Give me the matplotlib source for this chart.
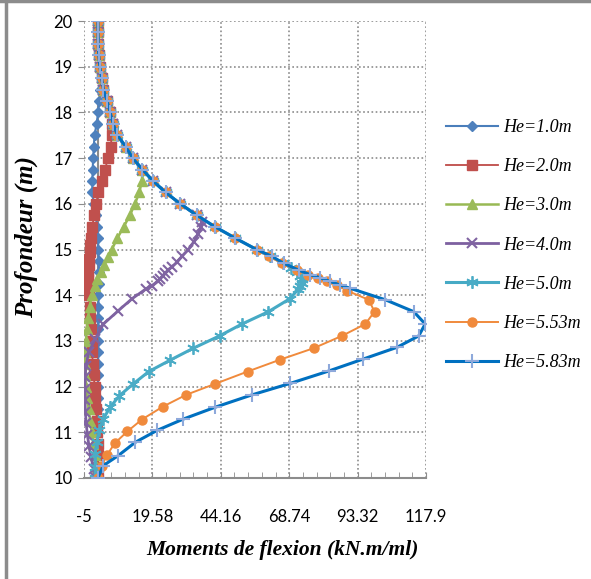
import matplotlib
matplotlib.use("Agg")
import matplotlib.pyplot as plt
from matplotlib.lines import Line2D

# ------------------------------
# DATA
# ------------------------------

# common upper part shared by most curves (depth in m, moment in kN.m/ml)
upper_depth = [20, 19.75, 19.5, 19.25, 19.0, 18.75, 18.5, 18.25, 18.0, 17.75, 17.5,
               17.25, 17.0, 16.75, 16.5, 16.25, 16.0, 15.75, 15.5, 15.25, 15.0]
upper_moment = [0, 0.05, 0.1, 0.3, 0.7, 1.3, 2.0, 3.3, 4.4, 5.5, 7.0,
                10.0, 12.5, 16.0, 19.8, 24.3, 29.6, 35.5, 42.0, 49.3, 57.0]

depth_10 = [20, 19.75, 19.5, 19.25, 19.0, 18.75, 18.5, 18.25, 18.0, 17.75, 17.5, 17.25,
            17.0, 16.75, 16.5, 16.25, 16.0, 15.75, 15.5, 15.25, 15.0, 14.75, 14.5, 14.25,
            14.0, 13.75, 13.5, 13.25, 13.0, 12.75, 12.5, 12.25, 12.0, 11.75, 11.5, 11.25,
            11.0, 10.75, 10.5, 10.25, 10.0]
moment_10 = [0, 0.05, 0.1, 0.3, 0.7, 1.0, 0.9, 0.5, 0.1, -0.5, -1.2, -1.5,
             -1.7, -1.9, -2.0, -2.0, -1.5, -0.8, -0.3, 0.0, 0.2, 0.3, 0.3, 0.3,
             0.2, 0.2, 0.2, 0.1, 0.1, 0.1, 0.1, 0.1, 0.0, 0.0, 0.0, 0.0,
             0.0, 0.0, 0.0, 0.0, 0.0]

depth_20 = upper_depth[:10] + [17.5, 17.25, 17.0, 16.75, 16.5, 16.25, 16.0, 15.75, 15.5,
                               15.25, 15.1, 14.95, 14.8, 14.65, 14.5, 14.35, 14.2, 14.0,
                               13.75, 13.5, 13.25, 13.0, 12.75, 12.5, 12.25, 12.0, 11.75,
                               11.5, 11.25, 11.0, 10.75, 10.5, 10.25, 10.0]
moment_20 = upper_moment[:9] + [5.2, 5.0, 4.6, 3.7, 2.5, 1.3, 0.2, -0.7, -1.4, -2.0,
                                -2.5, -2.8, -3.0, -3.2, -3.3, -3.4, -3.4, -3.3, -3.2,
                                -3.0, -2.8, -2.6, -2.3, -2.1, -1.8, -1.5, -1.2, -0.9,
                                -0.6, -0.4, -0.2, -0.1, 0.0, 0.0, 0.0]

depth_30 = upper_depth[:13] + [16.75, 16.5, 16.25, 16.0, 15.75, 15.5, 15.25, 15.0, 14.83,
                               14.65, 14.5, 14.35, 14.2, 14.0, 13.75, 13.5, 13.25, 13.0,
                               12.75, 12.5, 12.25, 12.0, 11.75, 11.5, 11.25, 11.0, 10.75,
                               10.5, 10.25, 10.0]
moment_30 = upper_moment[:13] + [16.0, 15.8, 14.9, 13.3, 11.5, 9.3, 7.0, 5.0, 3.6,
                                 2.2, 1.0, -0.2, -1.2, -2.2, -3.0, -3.6, -4.0, -4.3,
                                 -4.5, -4.6, -4.5, -4.2, -3.8, -3.3, -2.8, -2.2, -1.6,
                                 -1.0, -0.5, 0.0]

depth_40 = upper_depth[:18] + [15.6, 15.49, 15.34, 15.17, 15.0, 14.85, 14.72, 14.62, 14.55,
                               14.48, 14.42, 14.36, 14.3, 14.21, 14.14, 13.92, 13.66, 13.37,
                               13.04, 12.75, 12.46, 12.2, 11.95, 11.7, 11.45, 11.2, 10.95,
                               10.7, 10.45, 10.2, 10.0]
moment_40 = upper_moment[:18] + [37.5, 37.0, 36.0, 34.5, 32.5, 30.2, 28.4, 26.6, 25.2,
                                 24.2, 23.3, 22.4, 21.5, 19.4, 17.3, 12.2, 7.3, 2.0,
                                 -1.0, -3.3, -4.3, -4.6, -4.7, -4.6, -4.5, -4.2, -3.8,
                                 -3.2, -2.5, -1.5, -0.8]

depth_50 = upper_depth + [14.85, 14.7, 14.6, 14.5, 14.42, 14.35, 14.27, 14.2, 14.13, 13.92,
                          13.64, 13.37, 13.11, 12.84, 12.58, 12.33, 12.06, 11.8, 11.55,
                          11.29, 11.04, 10.78, 10.53, 10.24, 10.0]
moment_50 = upper_moment + [62.0, 66.5, 69.5, 71.5, 72.8, 73.3, 73.3, 72.8, 72.0, 68.9,
                            61.3, 51.8, 43.7, 34.3, 26.0, 18.3, 12.7, 7.7, 4.4,
                            1.9, 0.5, -0.4, -1.0, -1.0, -1.0]

depth_553 = upper_depth + [14.85, 14.7, 14.55, 14.45, 14.38, 14.3, 14.22, 14.1, 13.9, 13.64,
                           13.37, 13.11, 12.84, 12.59, 12.33, 12.06, 11.82, 11.56, 11.28,
                           11.02, 10.77, 10.5, 10.27, 10.0]
moment_553 = upper_moment + [61.5, 66.0, 71.5, 75.5, 79.0, 82.5, 86.0, 89.5, 97.3, 99.4,
                             96.1, 87.7, 77.5, 65.5, 53.8, 42.1, 31.7, 23.3, 15.8,
                             10.6, 6.2, 3.2, 1.4, 0.0]

depth_583 = upper_depth + [14.85, 14.7, 14.55, 14.45, 14.38, 14.3, 14.22, 14.15, 13.9, 13.64,
                           13.37, 13.11, 12.86, 12.6, 12.34, 12.07, 11.82, 11.55, 11.29,
                           11.04, 10.78, 10.49, 10.27, 10.0]
moment_583 = upper_moment + [62.5, 66.7, 72.1, 76.2, 79.9, 83.5, 87.1, 90.7, 103.3, 113.5,
                             117.6, 115.3, 107.5, 95.2, 82.9, 69.1, 55.4, 42.2, 30.7,
                             21.2, 13.4, 7.3, 1.9, 0.0]

# zero reference line drawn along the wall
ref_depth = [10, 18.3]
ref_moment = [0, 0]

labels = ["He=1.0m", "He=2.0m", "He=3.0m", "He=4.0m", "He=5.0m", "He=5.53m", "He=5.83m"]
x_ticks = [-5, 19.58, 44.16, 68.74, 93.32, 117.9]
x_tick_labels = ["-5", "19.58", "44.16", "68.74", "93.32", "117.9"]
y_ticks = [10, 11, 12, 13, 14, 15, 16, 17, 18, 19, 20]

# ------------------------------
# STYLE PER SERIES
# ------------------------------

series = [
    (moment_10, depth_10, dict(color="#4A7EBB", lw=1.5, marker="D", ms=5, mfc="#4F81BD", mec="#4F81BD")),
    (moment_20, depth_20, dict(color="#BE4B48", lw=1.3, marker="s", ms=6.5, mfc="#C0504D", mec="#C0504D")),
    (moment_30, depth_30, dict(color="#98B954", lw=1.8, marker="^", ms=6.5, mfc="#9BBB59", mec="#9BBB59")),
    (moment_40, depth_40, dict(color="#7D60A0", lw=2.0, marker="x", ms=7.5, mew=1.5, mec="#8064A2")),
    (moment_50, depth_50, dict(color="#46AAC5", lw=2.2, marker=(6, 2, 0), ms=9, mew=1.3, mec="#4BACC6")),
    (moment_553, depth_553, dict(color="#F08A3C", lw=1.4, marker="o", ms=6.5, mfc="#F08A3C", mec="#F08A3C")),
    (moment_583, depth_583, dict(color="#0070C0", lw=2.2, marker="+", ms=10, mew=1.5, mec="#8EA9DB")),
]

# ------------------------------
# PLOT
# ------------------------------

fig = plt.figure(figsize=(5.91, 5.79), dpi=100)
ax = fig.add_axes([84 / 591, 1 - 478 / 579, (426 - 84) / 591, (478 - 21) / 579])

ax.plot(ref_moment, ref_depth, color="#8C8C8C", lw=1.5, zorder=1.5)

handles = []
for (m, d, st), lab in zip(series, labels):
    line, = ax.plot(m, d, label=lab, zorder=3, **st)
    handles.append(line)

ax.set_xlim(-5, 117.9)
ax.set_ylim(10, 20)
ax.set_xticks(x_ticks)
ax.set_xticklabels(x_tick_labels)
ax.set_xticks([x_ticks[0] + i * 24.58 / 5 for i in range(26)], minor=True)
ax.set_yticks(y_ticks)

ax.grid(True, which="major", linestyle=(0, (1, 1.5)), color="#8C8C8C", lw=1.2)
for side in ["top", "right", "left"]:
    ax.spines[side].set_visible(False)
ax.spines["bottom"].set_color("#8C8C8C")
ax.spines["bottom"].set_linewidth(1.5)

ax.tick_params(axis="x", which="both", direction="in", length=4, color="#8C8C8C", pad=22)
ax.tick_params(axis="y", which="major", direction="out", length=4, color="#8C8C8C", pad=4)
for t in ax.get_xticklabels() + ax.get_yticklabels():
    t.set_fontfamily("Lato")
    t.set_fontsize(12)

xlabel_font = {"family": "Liberation Serif", "style": "italic", "weight": "bold", "size": 15.5}
ylabel_font = {"family": "Liberation Serif", "style": "italic", "weight": "bold", "size": 18}
ax.set_xlabel("Moments de flexion (kN.m/ml)", fontdict=xlabel_font)
ax.set_ylabel("Profondeur (m)", fontdict=ylabel_font)
ax.xaxis.set_label_coords(0.579, -0.135)
ax.yaxis.set_label_coords(-0.135, 0.527)

fig.legend(handles=handles, loc="center left", bbox_to_anchor=(446 / 591, 1 - 245 / 579),
           frameon=False, borderpad=0, borderaxespad=0, handlelength=2.9,
           handletextpad=0.25, labelspacing=1.23,
           prop={"family": "Liberation Serif", "style": "italic", "size": 13})

# outer chart frame (top and left edges visible in the reference)
fig.add_artist(Line2D([0, 1], [0.998, 0.998], transform=fig.transFigure, color="#8C8C8C", lw=2.5))
fig.add_artist(Line2D([6 / 591, 6 / 591], [0, 1], transform=fig.transFigure, color="#8C8C8C", lw=2.5))

fig.savefig("out.png", dpi=100)
